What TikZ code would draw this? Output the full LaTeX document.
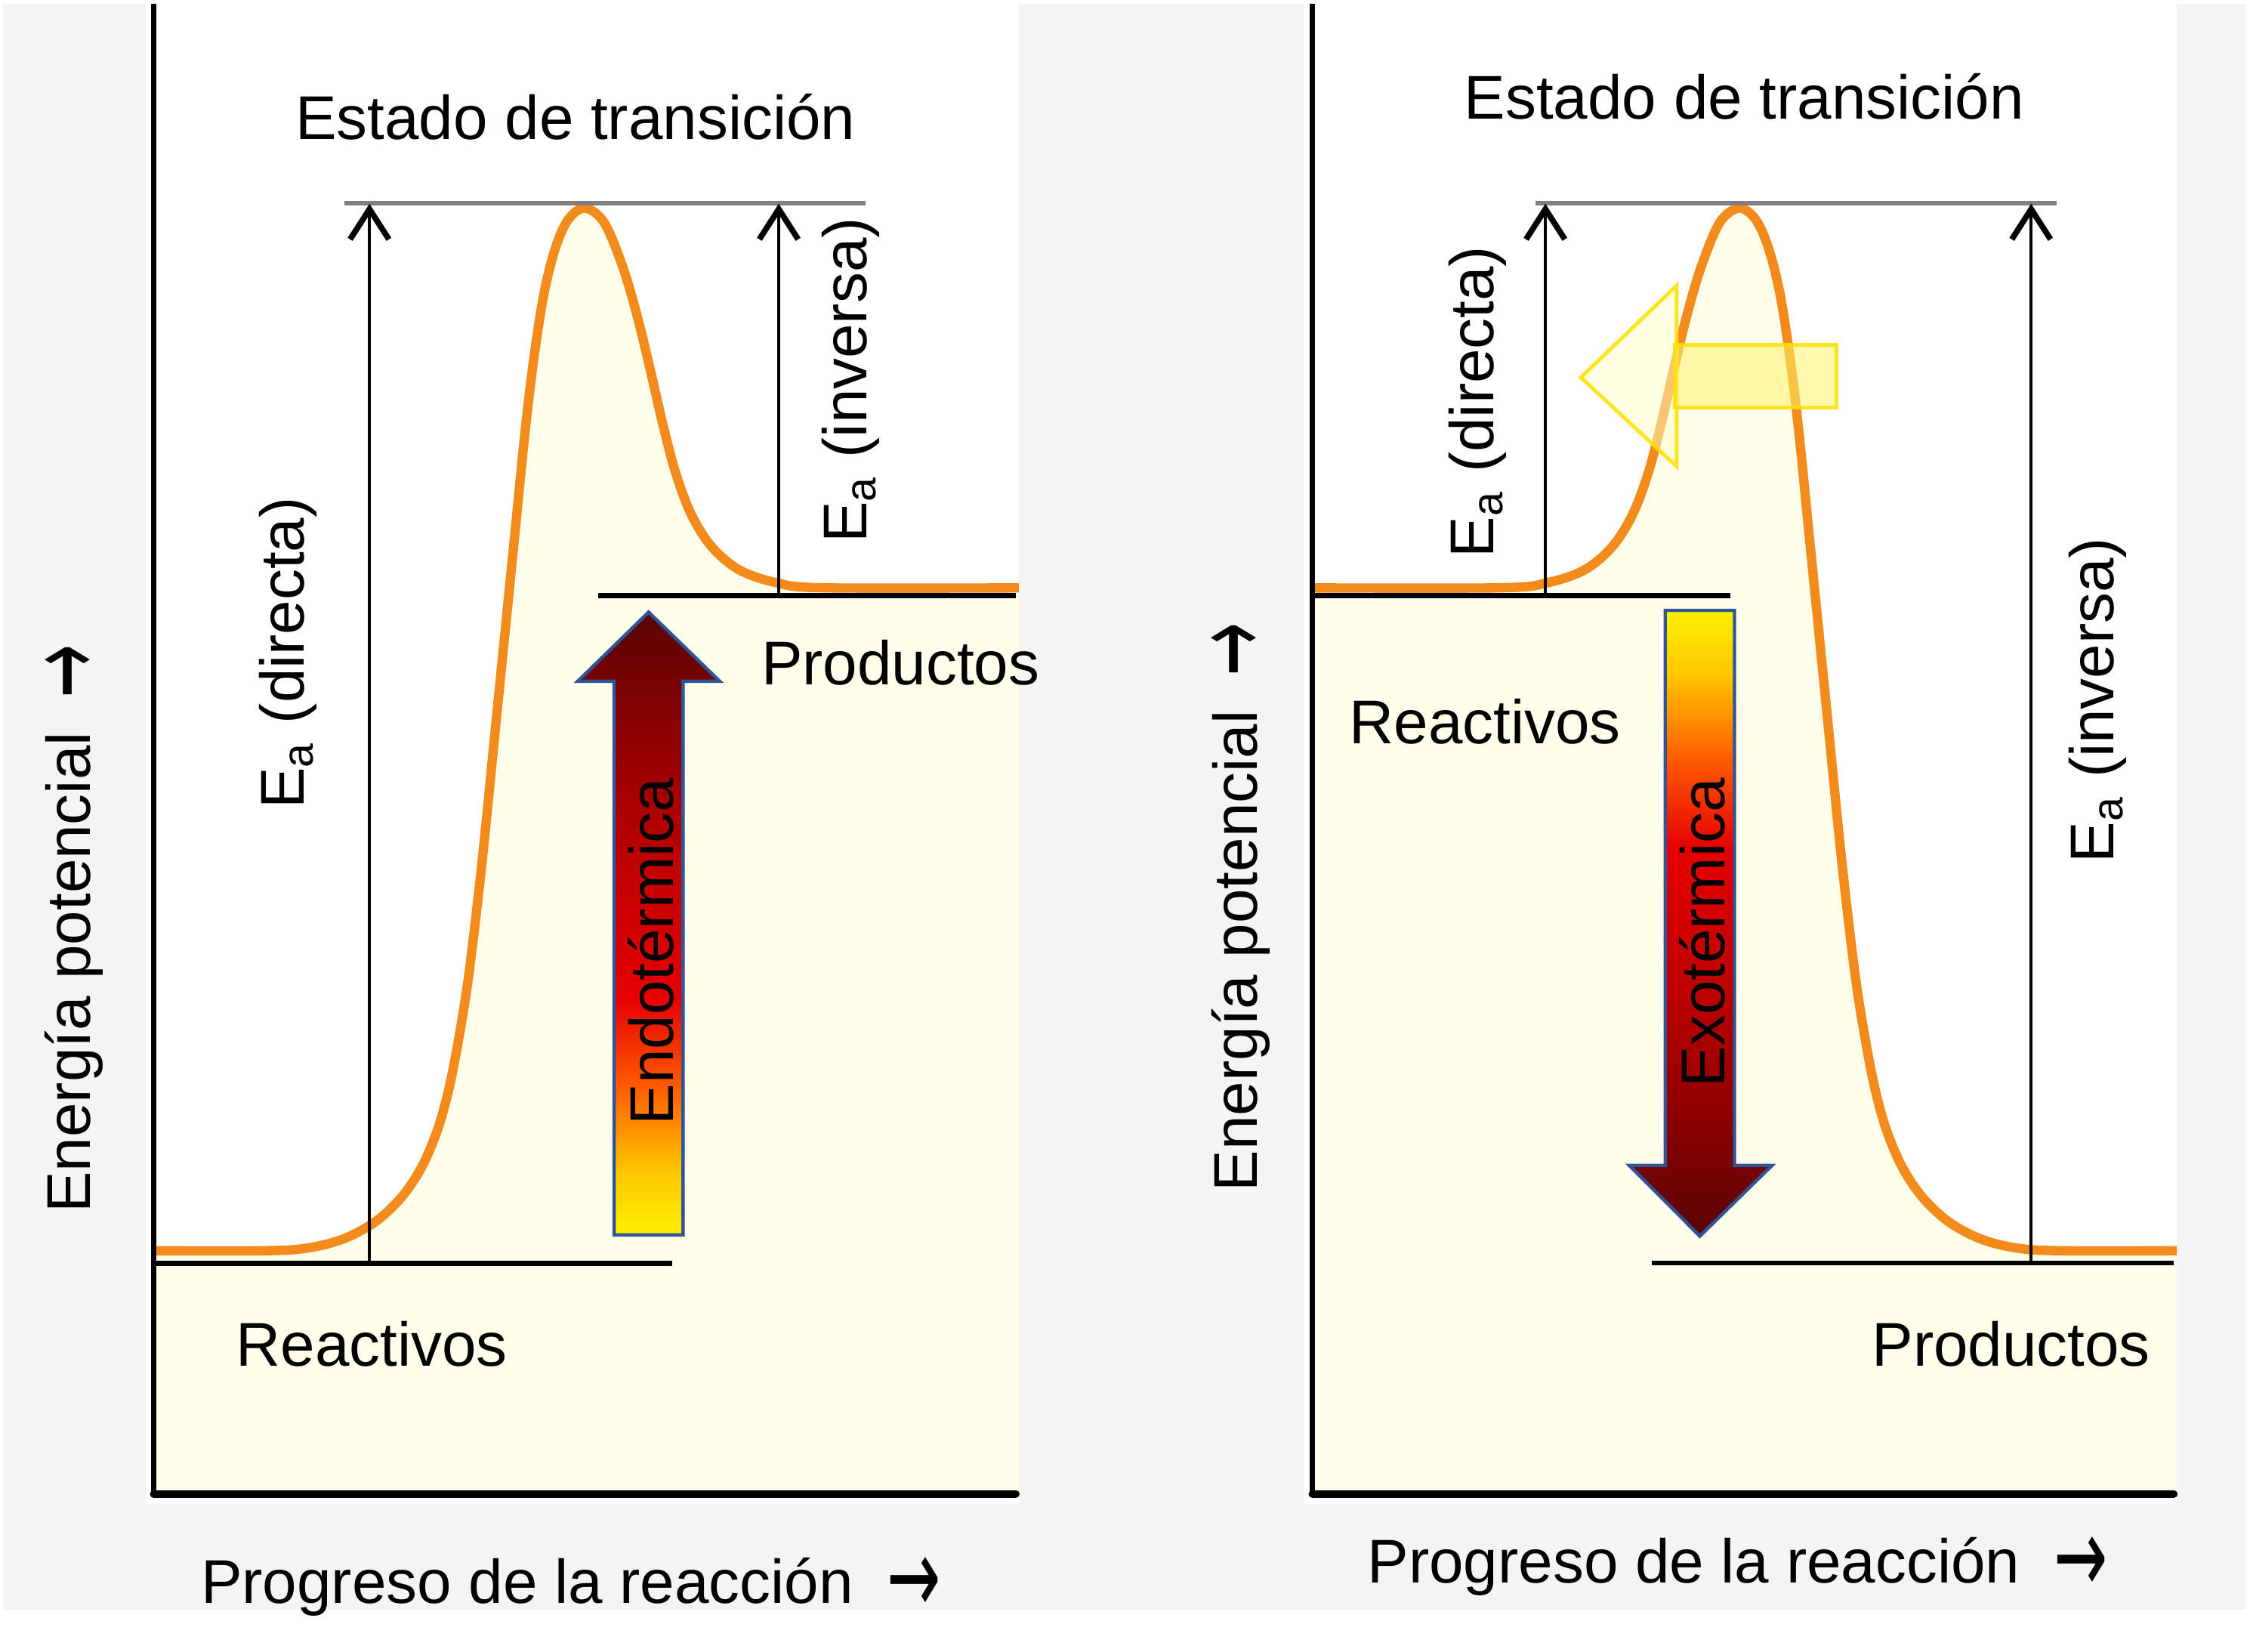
\documentclass[tikz,border=0pt]{standalone}
\usepackage{fontspec}
\usepackage{graphicx}
\setmainfont{Liberation Sans}
\newfontfamily\arrowfont{DejaVu Sans}
\usetikzlibrary{arrows.meta}
\definecolor{bggrey}{HTML}{F4F4F4}
\definecolor{cream}{HTML}{FFFEEB}
\definecolor{curveorange}{HTML}{F28B1C}
\definecolor{levelgrey}{HTML}{808080}
\definecolor{arrowblue}{HTML}{2F5597}
\definecolor{sA}{HTML}{FFF000}
\definecolor{sB}{HTML}{FFC800}
\definecolor{sC}{HTML}{FF5A00}
\definecolor{sD}{HTML}{E60000}
\definecolor{sE}{HTML}{C00000}
\definecolor{sF}{HTML}{8A0000}
\definecolor{sG}{HTML}{580606}
\definecolor{hollowyellow}{HTML}{FFE000}
\definecolor{shaftyellow}{HTML}{FFF36A}
\definecolor{headyellow}{HTML}{FFFFC8}
\pgfdeclareverticalshading{endoshade}{100bp}{color(0bp)=(sA); color(25bp)=(sA); color(30bp)=(sB); color(37bp)=(sC); color(44bp)=(sD); color(55bp)=(sE); color(66bp)=(sF); color(75bp)=(sG); color(100bp)=(sG)}
\pgfdeclareverticalshading{exoshade}{100bp}{color(0bp)=(sG); color(25bp)=(sG); color(34bp)=(sF); color(45bp)=(sE); color(56bp)=(sD); color(63bp)=(sC); color(70bp)=(sB); color(75bp)=(sA); color(100bp)=(sA)}
\newcommand\bigarrow{\raisebox{-2pt}{\scalebox{0.85}[1.4]{\arrowfont\fontsize{15}{16}\selectfont →}}}
\tikzset{
  lbl/.style={font=\fontsize{12.24}{14}\selectfont, inner sep=0pt, text=black},
  axisline/.style={line width=1.0pt, black},
  bottomaxis/.style={line width=1.45pt, black, line cap=round},
  levelline/.style={line width=1.0pt, black},
  topline/.style={line width=0.95pt, levelgrey},
  eaarrow/.style={line width=0.65pt, black, -{Straight Barb[length=2.1mm,width=2.7mm,line width=1.15pt]}},
  energycurve/.style={curveorange, line width=1.85pt, line join=round},
  blockarrow/.style={draw=arrowblue, line width=0.65pt},
}
\def\curvepath{plot[smooth, tension=0.55] coordinates {(100,871.5) (185,871.5) (215,869.5) (240,863) (262,851) (280,834) (294,813) (305,787) (313,758) (320,722) (327,677) (336,600) (345,510) (352,440) (359,370) (366,300) (372,250) (379,205) (387,173) (396,153) (407.5,145) (421,155) (434,186) (444,220) (453,257) (462,296) (471,330) (482,359) (496,381) (515,397) (541,406) (575,409.6) (720,409.6)}}
\begin{document}
\begin{tikzpicture}[x=0.01cm, y=-0.01cm]
\useasboundingbox (0,0) rectangle (1568,1151);
% backgrounds
\fill[bggrey] (2,2.6) rectangle (1565,1121.5);
\fill[white] (102,2.6) rectangle (710,1048);
\fill[white] (909,2.6) rectangle (1517,1048);
% left panel curve and fill
\begin{scope}
  \clip (107,0) rectangle (710,1041);
  \fill[cream] \curvepath -- (720,1041) -- (100,1041) -- cycle;
  \draw[energycurve] \curvepath;
\end{scope}
% right panel curve and fill (mirror image)
\begin{scope}
  \clip (914,0) rectangle (1517,1041);
  \begin{scope}[shift={(1619.5,0)}, xscale=-1]
    \fill[cream] \curvepath -- (720,1041) -- (100,1041) -- cycle;
    \draw[energycurve] \curvepath;
  \end{scope}
\end{scope}
% coordinates
\coordinate (rlL1) at (107,880.4);   \coordinate (rlL2) at (468.4,880.4);
\coordinate (plL1) at (416.8,414.9); \coordinate (plL2) at (708,414.9);
\coordinate (tlL1) at (240,141.7);   \coordinate (tlL2) at (603,141.7);
\coordinate (eadLb) at (257.5,880.4); \coordinate (eadLt) at (257.5,142);
\coordinate (eaiLb) at (542.7,414.9); \coordinate (eaiLt) at (542.7,142);
\coordinate (rlR1) at (914.5,414.9); \coordinate (rlR2) at (1206,414.9);
\coordinate (plR1) at (1151,880);    \coordinate (plR2) at (1515,880);
\coordinate (tlR1) at (1070,141.7);  \coordinate (tlR2) at (1433,141.7);
\coordinate (eadRb) at (1077,414.9); \coordinate (eadRt) at (1077,142);
\coordinate (eaiRb) at (1415.5,880); \coordinate (eaiRt) at (1415.5,142);
\coordinate (axLtop) at (107,2.6);   \coordinate (axLo) at (107,1041); \coordinate (axLr) at (708,1041);
\coordinate (axRtop) at (914.5,2.6); \coordinate (axRo) at (914.5,1041); \coordinate (axRr) at (1515,1041);
% level lines
\draw[levelline] (rlL1) -- (rlL2);
\draw[levelline] (plL1) -- (plL2);
\draw[levelline] (rlR1) -- (rlR2);
\draw[levelline] (plR1) -- (plR2);
\draw[topline] (tlL1) -- (tlL2);
\draw[topline] (tlR1) -- (tlR2);
% activation energy arrows
\draw[eaarrow] (eadLb) -- (eadLt);
\draw[eaarrow] (eaiLb) -- (eaiLt);
\draw[eaarrow] (eadRb) -- (eadRt);
\draw[eaarrow] (eaiRb) -- (eaiRt);
% block arrows
\shadedraw[blockarrow, shading=endoshade] (428,860.5) -- (428,474.7) -- (402.6,474.7) -- (452,426.5) -- (501.6,474.7) -- (476,474.7) -- (476,860.5) -- cycle;
\shadedraw[blockarrow, shading=exoshade] (1160.5,425.3) -- (1160.5,812) -- (1135.3,812) -- (1184.6,861.4) -- (1235,812) -- (1208.8,812) -- (1208.8,425.3) -- cycle;
% hollow yellow arrow
\filldraw[fill=headyellow, fill opacity=0.5, draw=hollowyellow, draw opacity=0.85, line width=0.75pt, line join=miter] (1168.4,199) -- (1101.7,263) -- (1168.4,325) -- cycle;
\filldraw[fill=shaftyellow, fill opacity=0.55, draw=hollowyellow, draw opacity=0.85, line width=0.75pt] (1167,240.4) rectangle (1280,284);
% axes
\draw[axisline] (axLtop) -- (axLo);
\draw[bottomaxis] (axLo) -- (axLr);
\draw[axisline] (axRtop) -- (axRo);
\draw[bottomaxis] (axRo) -- (axRr);
% texts
\node[lbl, anchor=base] (tsL) at (401,97) {Estado de transición};
\node[lbl, anchor=base] (tsR) at (1215.5,83) {Estado de transición};
\node[lbl, anchor=base] (prodL) at (627.5,477) {Productos};
\node[lbl, anchor=base] (reacL) at (259,952) {Reactivos};
\node[lbl, anchor=base] (reacR) at (1035,518) {Reactivos};
\node[lbl, anchor=base] (prodR) at (1401.5,952) {Productos};
\node[lbl, anchor=base] (xL) at (398,1117) {Progreso de la reacción\hspace{0.55em}\bigarrow};
\node[lbl, anchor=base] (xR) at (1211,1103) {Progreso de la reacción\hspace{0.55em}\bigarrow};
\node[lbl, anchor=base, rotate=90] (yL) at (63,647) {Energía potencial\hspace{0.55em}\bigarrow};
\node[lbl, anchor=base, rotate=90] (yR) at (876,632) {Energía potencial\hspace{0.55em}\bigarrow};
\node[lbl, anchor=base, rotate=90] (eadL) at (212,455) {E\textsubscript{a} (directa)};
\node[lbl, anchor=base, rotate=90] (eaiL) at (604,265) {E\textsubscript{a} (inversa)};
\node[lbl, anchor=base, rotate=90] (eadR) at (1041,280) {E\textsubscript{a} (directa)};
\node[lbl, anchor=base, rotate=90] (eaiR) at (1473,488) {E\textsubscript{a} (inversa)};
\node[lbl, anchor=base, rotate=90] (endo) at (469,663) {Endotérmica};
\node[lbl, anchor=base, rotate=90] (exo) at (1202,650) {Exotérmica};
\end{tikzpicture}
\end{document}
